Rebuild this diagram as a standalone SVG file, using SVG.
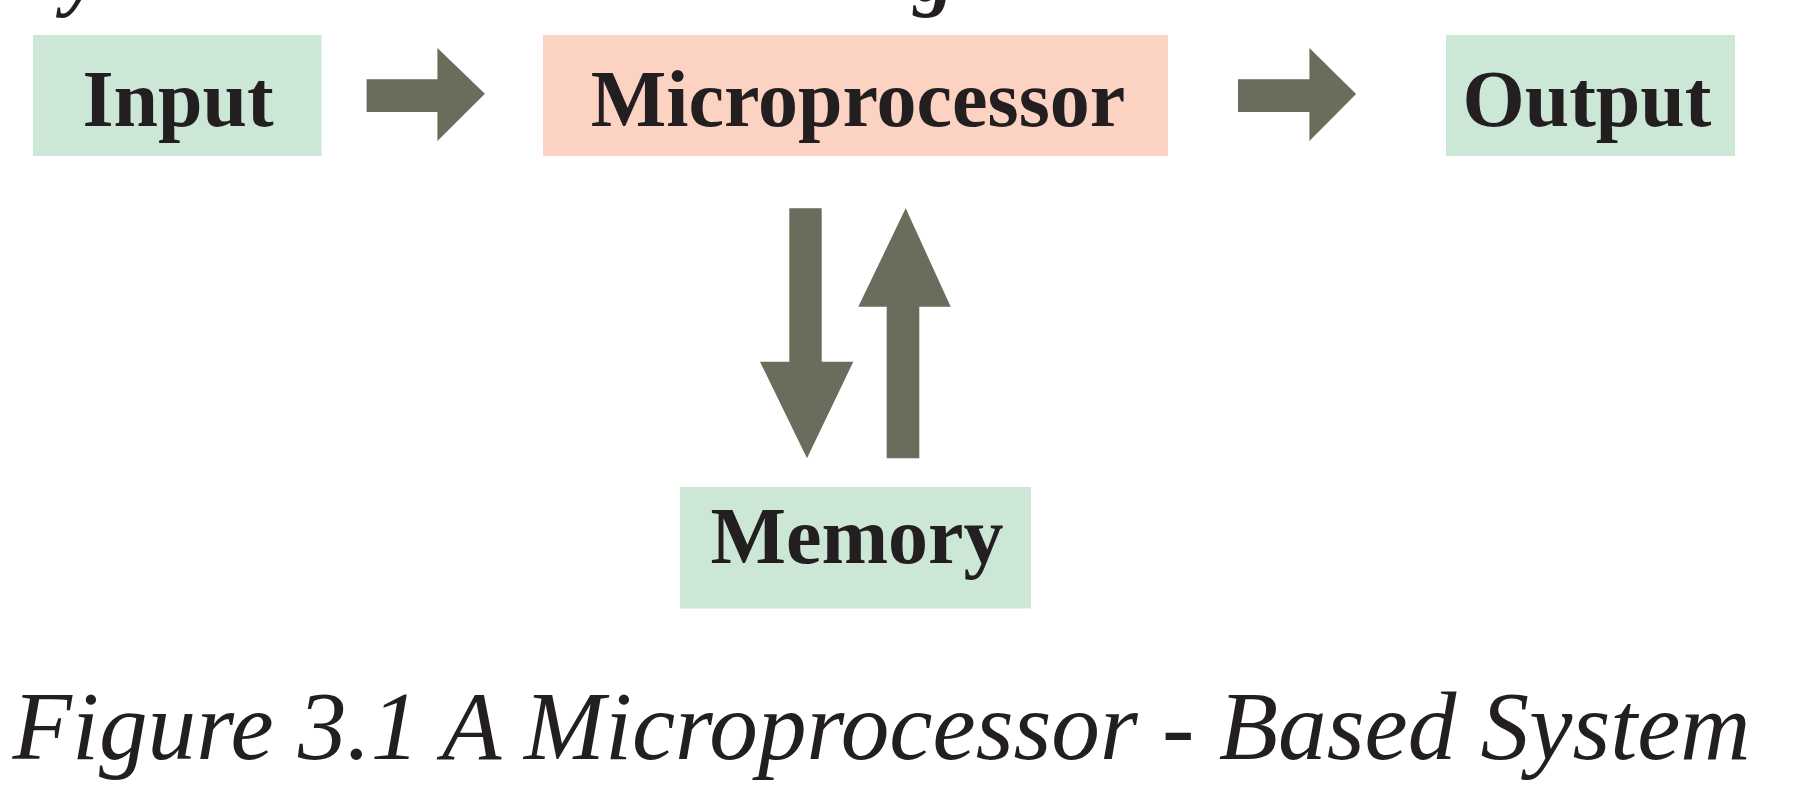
<svg xmlns="http://www.w3.org/2000/svg" width="1795" height="794" viewBox="0 0 1795 794">
<style>
.green{fill:#cde7d7}
.salmon{fill:#fcd3c3}
.lbl{font-family:"Liberation Serif","Times New Roman",serif;font-weight:bold;font-size:80px;fill:#231f20;text-anchor:middle}
.arrow{fill:#6b6c5c}
.cap{font-family:"Liberation Serif","Times New Roman",serif;font-style:italic;font-size:97px;fill:#231f20}
.frag{font-family:"Liberation Serif","Times New Roman",serif;font-style:italic;font-weight:bold;font-size:80px;fill:#231f20}
</style>
<rect width="1795" height="794" fill="#ffffff"/>
<text class="frag" x="64" y="1">y</text>
<text class="frag" x="914" y="1">g</text>
<g id="input">
<rect class="green" x="33" y="35" width="288.5" height="121"/>
<text class="lbl" x="178" y="126">Input</text>
</g>
<g id="microprocessor">
<rect class="salmon" x="543" y="35" width="625" height="121"/>
<text class="lbl" x="858" y="126">Microprocessor</text>
</g>
<g id="output">
<rect class="green" x="1446" y="35" width="289" height="121"/>
<text class="lbl" x="1587" y="126">Output</text>
</g>
<g id="memory">
<rect class="green" x="680" y="487" width="351" height="121.5"/>
<text class="lbl" x="857" y="563">Memory</text>
</g>
<g id="connectors">
<polygon class="arrow" points="366.6,79.3 437.4,79.3 437.4,48 484.9,93.7 437.4,141 437.4,112 366.6,112"/>
<polygon class="arrow" points="1238,79.3 1309.4,79.3 1309.4,48 1356.1,94 1309.4,141 1309.4,112 1238,112"/>
<polygon class="arrow" points="789.3,208.3 821.7,208.3 821.7,361.7 853.3,361.7 807,458.3 760,361.7 789.3,361.7"/>
<polygon class="arrow" points="886.7,458.3 919.3,458.3 919.3,306.7 950.7,306.7 905.7,208.3 858.3,306.7 886.7,306.7"/>
</g>
<text class="cap" x="12.6" y="759" textLength="1738" lengthAdjust="spacingAndGlyphs">Figure 3.1 A Microprocessor - Based System</text>
</svg>
